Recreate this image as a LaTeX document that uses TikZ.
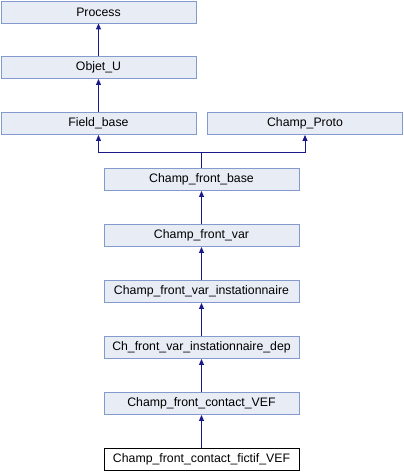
\documentclass[tikz,border=0pt]{standalone}
\usepackage{fontspec}
\setmainfont{Liberation Sans}
\usetikzlibrary{arrows.meta}
\definecolor{boxfill}{RGB}{232,236,245}
\definecolor{boxline}{RGB}{132,154,204}
\definecolor{edgecol}{RGB}{25,25,140}
\begin{document}
\begin{tikzpicture}[x=1pt,y=-1pt,
  cls/.style={draw=boxline,fill=boxfill,line width=0.9pt,minimum width=195pt,minimum height=22pt,inner sep=0pt,font=\fontsize{12.3}{14}\selectfont},
  leaf/.style={cls,draw=black,fill=white},
  inh/.style={draw=edgecol,line width=1pt,-{Triangle[length=6pt,width=5pt]}}]
\useasboundingbox (0,0) rectangle (404,472);
\node[cls] (process) at (98.5,12) {Process};
\node[cls] (objet) at (98.5,67.5) {Objet\_U};
\node[cls] (field) at (98.5,123.5) {Field\_base};
\node[cls] (proto) at (305,123.5) {Champ\_Proto};
\node[cls] (cfb) at (201.5,179.5) {Champ\_front\_base};
\node[cls] (cfv) at (201.5,235.5) {Champ\_front\_var};
\node[cls] (cfvi) at (201.5,291.5) {Champ\_front\_var\_instationnaire};
\node[cls] (chdep) at (201.5,347.5) {Ch\_front\_var\_instationnaire\_dep};
\node[cls] (ccv) at (201.5,403.5) {Champ\_front\_contact\_VEF};
\node[leaf] (ccfv) at (201.5,459.5) {Champ\_front\_contact\_fictif\_VEF};
\coordinate (junc) at (201.5,152.5);
\draw[inh] (objet) -- (process);
\draw[inh] (field) -- (objet);
\draw[inh] (cfb.north) -- (junc) -| (field.south);
\draw[inh] (junc) -| (proto.south);
\draw[inh] (cfv) -- (cfb);
\draw[inh] (cfvi) -- (cfv);
\draw[inh] (chdep) -- (cfvi);
\draw[inh] (ccv) -- (chdep);
\draw[inh] (ccfv) -- (ccv);
\end{tikzpicture}
\end{document}
